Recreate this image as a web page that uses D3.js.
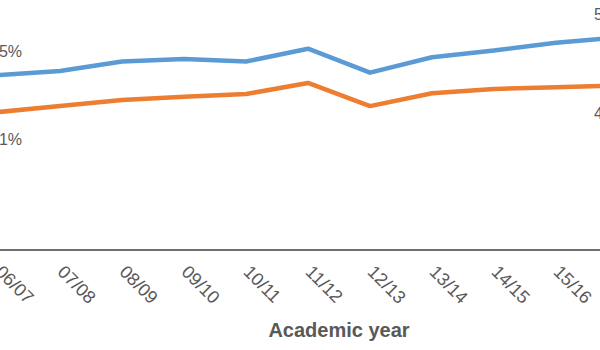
<!DOCTYPE html>
<html>
  <head>
    <meta charset="utf-8">
    <script src="https://d3js.org/d3.v7.min.js"></script>
    <style>
      body { margin: 0; background: #fff; }
      svg { display: block; font-family: 'Liberation Sans', Arial, sans-serif; }
    </style>
  </head>
  <body>
    <div id="wrapper"></div>
    <script>

// academic years on the x axis (chart is cropped on both sides)
const years = ["06/07","07/08","08/09","09/10","10/11","11/12","12/13","13/14","14/15","15/16","16/17"]
// % values
const blueVals   = [45.4, 45.9, 47.0, 47.3, 47.0, 48.5, 45.7, 47.5, 48.3, 49.2, 49.8]
const orangeVals = [41.1, 41.8, 42.5, 42.9, 43.2, 44.5, 41.8, 43.3, 43.8, 44.0, 44.2]
const yDomain = [25, 55]

const w = 600, h = 350
const grey = "#595959"

const svg = d3.select("#wrapper").append("svg")
  .attr("width", w)
  .attr("height", h)

const x = d3.scalePoint().domain(years).range([-2, 618])
const y = d3.scaleLinear().domain(yDomain).range([250, -7])

const series = [
  {name: "blue", vals: blueVals, color: "#5B9BD5", above: true},
  {name: "orange", vals: orangeVals, color: "#ED7D31", above: false}
]

const line = d3.line()
  .x((d, i) => x(years[i]))
  .y(d => y(d))

series.forEach(s => {
  svg.append("path")
    .datum(s.vals)
    .attr("fill", "none")
    .attr("stroke", s.color)
    .attr("stroke-width", 4.5)
    .attr("stroke-linejoin", "round")
    .attr("d", line)

  // labels on first and last points only
  const last = s.vals.length - 1
  svg.selectAll(".lbl-" + s.name)
    .data([0, last])
    .enter().append("text")
    .attr("x", i => x(years[i]) + (i == 0 ? 8 : -8))
    .attr("y", i => y(s.vals[i]) + (s.above ? -18 : 33))
    .attr("text-anchor", "middle")
    .attr("fill", grey)
    .style("font-size", "16px")
    .text(i => d3.format(".0f")(s.vals[i]) + "%")
})

// x axis
const xAxis = svg.append("g")
  .attr("transform", "translate(0,250)")
  .call(d3.axisBottom(x).tickSize(0).tickPadding(0))
xAxis.select(".domain")
  .attr("d", "M0,0H" + w)
  .attr("stroke", "#404040")
  .attr("stroke-width", 1.6)
xAxis.selectAll(".tick text")
  .attr("fill", grey)
  .attr("text-anchor", "start")
  .attr("dy", null)
  .attr("y", 0)
  .attr("transform", "translate(-4,23) rotate(45)")
  .style("font-size", "18px")
  .style("font-family", "'Liberation Sans', Arial, sans-serif")

svg.append("text")
  .attr("x", 339)
  .attr("y", 337)
  .attr("text-anchor", "middle")
  .attr("fill", grey)
  .style("font-size", "20px")
  .style("font-weight", "bold")
  .text("Academic year")

    </script>
  </body>
</html>
